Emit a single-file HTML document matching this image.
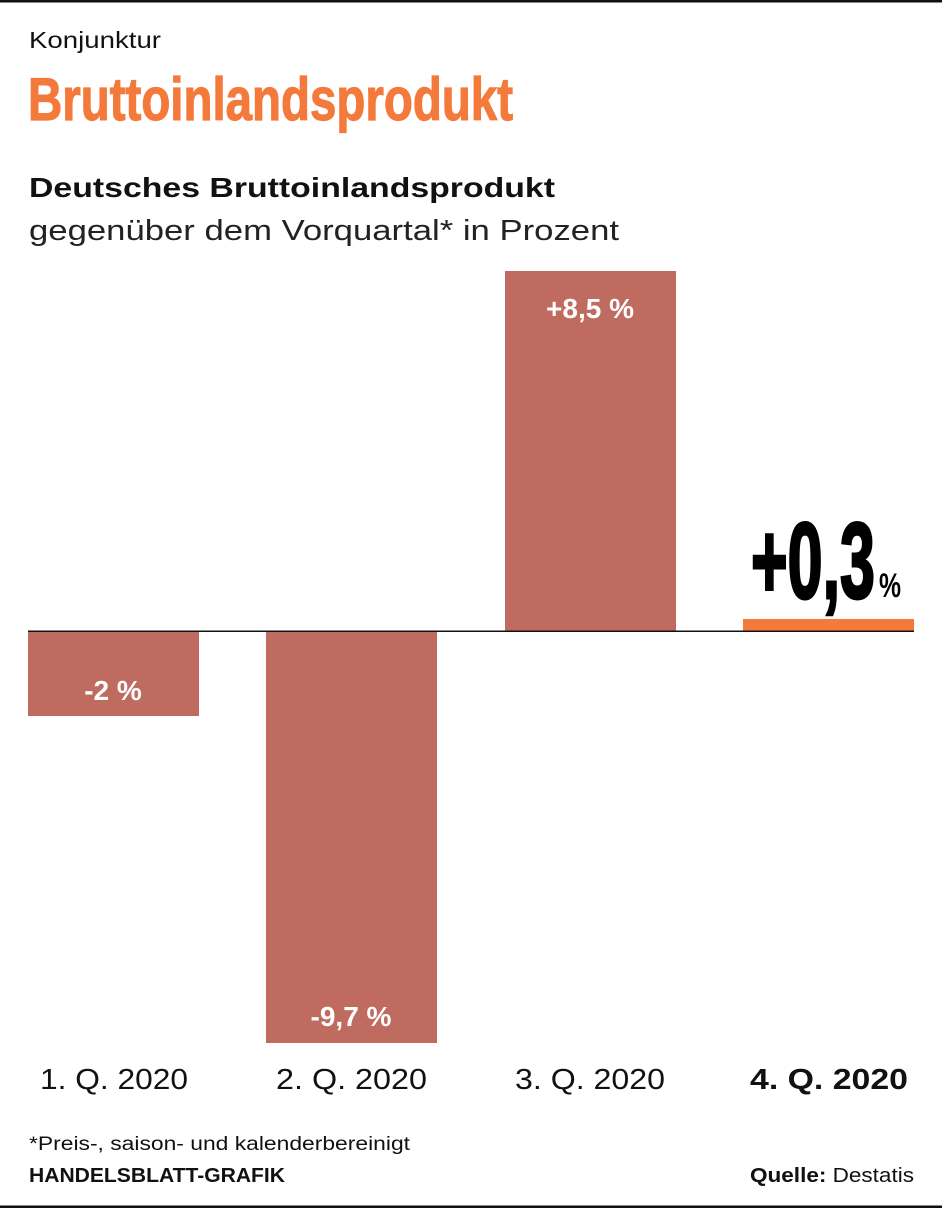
<!DOCTYPE html>
<html><head><meta charset="utf-8"><style>
html,body{margin:0;padding:0;background:#fff}
svg{display:block}
</style></head><body>
<svg width="942" height="1208" viewBox="0 0 942 1208" xmlns="http://www.w3.org/2000/svg" font-family="Liberation Sans, sans-serif">
<rect x="0" y="0" width="942" height="2.5" fill="#111"/>
<rect x="0" y="1205.5" width="942" height="2.5" fill="#111"/>
<text x="29" y="48" font-size="23" fill="#111" textLength="132" lengthAdjust="spacingAndGlyphs">Konjunktur</text>
<text x="28" y="120" font-size="60" font-weight="bold" fill="#f47a3c" stroke="#f47a3c" stroke-width="1.2" textLength="485" lengthAdjust="spacingAndGlyphs">Bruttoinlandsprodukt</text>
<text x="29" y="197" font-size="28" font-weight="bold" fill="#111" textLength="526" lengthAdjust="spacingAndGlyphs">Deutsches Bruttoinlandsprodukt</text>
<text x="29" y="240" font-size="29" fill="#222" textLength="590" lengthAdjust="spacingAndGlyphs">gegenüber dem Vorquartal* in Prozent</text>
<rect x="28" y="631" width="171" height="85" fill="#bf6b5f"/>
<rect x="266" y="631" width="171" height="412" fill="#bf6b5f"/>
<rect x="505" y="271" width="171" height="360" fill="#bf6b5f"/>
<rect x="743" y="619" width="171" height="12" fill="#f47a3c"/>
<rect x="28" y="630.5" width="886" height="1.5" fill="#111"/>
<g font-size="28" font-weight="bold" fill="#fff" text-anchor="middle">
<text x="113" y="700">-2 %</text>
<text x="351" y="1026">-9,7 %</text>
<text x="590" y="318">+8,5 %</text>
</g>
<text x="751" y="598" font-size="108" font-weight="bold" fill="#000" stroke="#000" stroke-width="3" textLength="124" lengthAdjust="spacingAndGlyphs">+0,3</text>
<text x="879" y="597" font-size="34" font-weight="bold" fill="#000" textLength="22" lengthAdjust="spacingAndGlyphs">%</text>
<g font-size="29" fill="#111">
<text x="40" y="1089" textLength="148" lengthAdjust="spacingAndGlyphs">1. Q. 2020</text>
<text x="276" y="1089" textLength="151" lengthAdjust="spacingAndGlyphs">2. Q. 2020</text>
<text x="515" y="1089" textLength="150" lengthAdjust="spacingAndGlyphs">3. Q. 2020</text>
<text x="750" y="1089" font-weight="bold" textLength="158" lengthAdjust="spacingAndGlyphs">4. Q. 2020</text>
</g>
<text x="29" y="1150" font-size="19" fill="#111" textLength="381" lengthAdjust="spacingAndGlyphs">*Preis-, saison- und kalenderbereinigt</text>
<text x="29" y="1182" font-size="20" font-weight="bold" fill="#111" textLength="256" lengthAdjust="spacingAndGlyphs">HANDELSBLATT-GRAFIK</text>
<text x="750" y="1182" font-size="20" fill="#111" textLength="164" lengthAdjust="spacingAndGlyphs"><tspan font-weight="bold">Quelle:</tspan> Destatis</text>
</svg>
</body></html>
